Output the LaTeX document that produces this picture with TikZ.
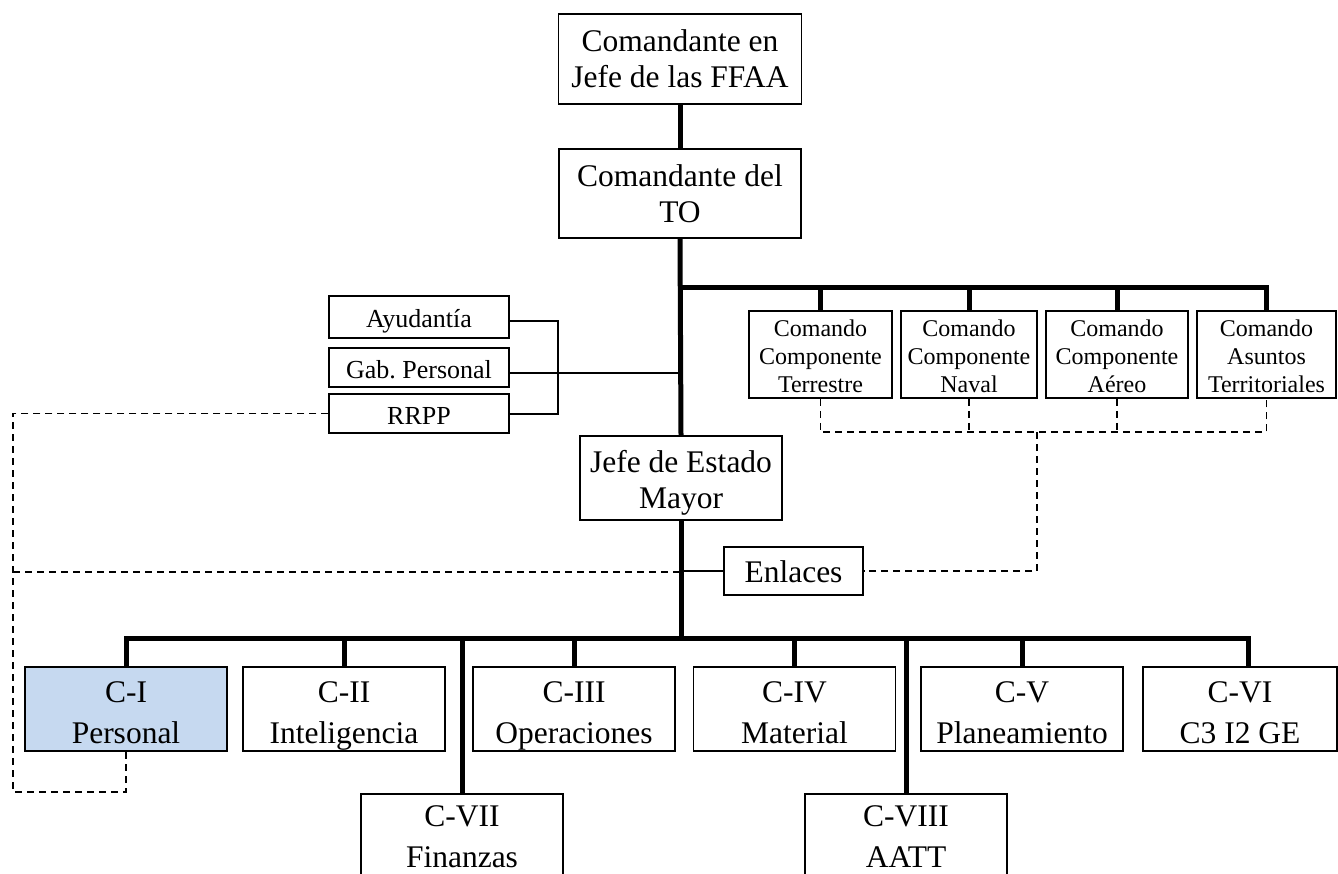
\documentclass[tikz,border=0pt]{standalone}
\usepackage{fontspec}
\setmainfont{Liberation Serif}
\definecolor{cifill}{RGB}{198,217,240}
\newcommand{\orgtop}[1]{\rule{0pt}{#1}}
\newcommand{\orgbot}[1]{\rule[-#1]{0pt}{#1}}
\frenchspacing
\begin{document}
\begin{tikzpicture}[x=1pt,y=-1pt,
  box/.style={draw, line width=1.5pt, inner sep=0pt, align=center},
  big/.style={font=\fontsize{31.5}{36}\selectfont},
  bot/.style={font=\fontsize{31.5}{41}\selectfont},
  small/.style={font=\fontsize{24}{28}\selectfont},
  side/.style={font=\fontsize{26}{28}\selectfont},
  orgbar/.style={line width=5pt},
  orgthin/.style={line width=2pt},
  orgdash/.style={line width=1.5pt, dash pattern=on 7pt off 5pt},
]
\useasboundingbox (0,0) rectangle (1338,874);
\clip (0,0) rectangle (1338,874);

% top chain
\node[box,big,minimum width=243pt,minimum height=90pt] (ffaa) at (680,59) {\orgtop{29pt}Comandante en\\Jefe de las FFAA\orgbot{7pt}};
\node[box,big,minimum width=242pt,minimum height=89pt] (to) at (680,193.5) {\orgtop{29pt}Comandante del\\TO\orgbot{7pt}};
\node[box,big,minimum width=202pt,minimum height=84pt] (jem) at (681,478) {\orgtop{31pt}Jefe de Estado\\Mayor\orgbot{7pt}};
\node[box,big,minimum width=139pt,minimum height=48pt] (enl) at (793.5,571) {\orgtop{24pt}Enlaces};

% staff boxes
\node[box,side,minimum width=180pt,minimum height=42pt] (ayu) at (419,317) {\orgtop{27pt}Ayudantía\orgbot{6pt}};
\node[box,side,minimum width=180pt,minimum height=39pt] (gab) at (419,367.5) {\orgtop{27pt}Gab. Personal\orgbot{6pt}};
\node[box,side,minimum width=180pt,minimum height=39pt] (rrpp) at (419,413.5) {\orgtop{27pt}RRPP\orgbot{6pt}};

% component commands
\node[box,small,minimum width=143pt,minimum height=85pt] (cterr) at (820.5,354.5) {\orgtop{25pt}Comando\\Componente\\Terrestre\orgbot{6pt}};
\node[box,small,minimum width=136pt,minimum height=85pt] (cnav) at (969,354.5) {\orgtop{25pt}Comando\\Componente\\Naval\orgbot{6pt}};
\node[box,small,minimum width=142pt,minimum height=85pt] (caer) at (1117,354.5) {\orgtop{25pt}Comando\\Componente\\Aéreo\orgbot{6pt}};
\node[box,small,minimum width=139pt,minimum height=85pt] (cat) at (1266.5,354.5) {\orgtop{25pt}Comando\\Asuntos\\Territoriales\orgbot{6pt}};

% staff sections
\node[box,bot,fill=cifill,minimum width=202pt,minimum height=84pt] (c1) at (126,709) {\orgtop{34pt}C-I\\Personal\orgbot{7pt}};
\node[box,bot,minimum width=202pt,minimum height=84pt] (c2) at (344,709) {\orgtop{34pt}C-II\\Inteligencia\orgbot{7pt}};
\node[box,bot,minimum width=202pt,minimum height=84pt] (c3) at (574,709) {\orgtop{34pt}C-III\\Operaciones\orgbot{7pt}};
\node[box,bot,minimum width=202pt,minimum height=84pt] (c4) at (794.5,709) {\orgtop{34pt}C-IV\\Material\orgbot{7pt}};
\node[box,bot,minimum width=202pt,minimum height=84pt] (c5) at (1022,709) {\orgtop{34pt}C-V\\Planeamiento\orgbot{7pt}};
\node[box,bot,minimum width=194pt,minimum height=84pt] (c6) at (1240,709) {\orgtop{34pt}C-VI\\C3 I2 GE\orgbot{7pt}};
\node[box,bot,minimum width=202pt,minimum height=84pt] (c7) at (462,836) {\orgtop{28pt}C-VII\\Finanzas\orgbot{7pt}};
\node[box,bot,minimum width=202pt,minimum height=84pt] (c8) at (906,836) {\orgtop{28pt}C-VIII\\AATT\orgbot{7pt}};

% helper coordinates
\coordinate (cb) at (680,288);
\coordinate (bb) at (680,638);
\coordinate (brk) at (558,321);
\coordinate (cbus) at (1037,432);
\coordinate (dl) at (13,572);
\coordinate (dlb) at (13,792);

% thin solid connectors
\draw[orgthin] ([yshift=-4pt]ayu.east) -- (brk) -- (brk |- rrpp.east) -- (rrpp.east);
\draw[orgthin] ([yshift=-5pt]gab.east) -- ([yshift=-5pt]gab.east -| jem.north);
\draw[orgthin] (enl.west -| jem.north) -- (enl.west);

% dashed connectors
\draw[orgdash] (cterr.south) |- (cat.south |- cbus) -- (cat.south);
\draw[orgdash] (cnav.south) -- (cnav.south |- cbus);
\draw[orgdash] (caer.south) -- (caer.south |- cbus);
\draw[orgdash] (cbus) |- (enl.east);
\draw[orgdash] (rrpp.west) -| (dlb) -| (c1.south);
\draw[orgdash] (dl) -- (dl -| jem.north);

% thick hierarchy lines
\draw[orgbar] (ffaa.south) -- (to.north);
\draw[orgbar] (to.south) -- (jem.north);
\draw[orgbar] (jem.north |- cb) -| (cat.north);
\draw[orgbar] (cterr.north) -- (cterr.north |- cb);
\draw[orgbar] (cnav.north) -- (cnav.north |- cb);
\draw[orgbar] (caer.north) -- (caer.north |- cb);
\draw[orgbar] (jem.south) -- (jem.south |- bb);
\draw[orgbar] (c1.north) |- (bb) -| ([xshift=8pt]c6.north);
\draw[orgbar] (c2.north) -- (c2.north |- bb);
\draw[orgbar] (c3.north) -- (c3.north |- bb);
\draw[orgbar] (c4.north) -- (c4.north |- bb);
\draw[orgbar] (c5.north) -- (c5.north |- bb);
\draw[orgbar] (c7.north) -- (c7.north |- bb);
\draw[orgbar] (c8.north) -- (c8.north |- bb);
\end{tikzpicture}
\end{document}
